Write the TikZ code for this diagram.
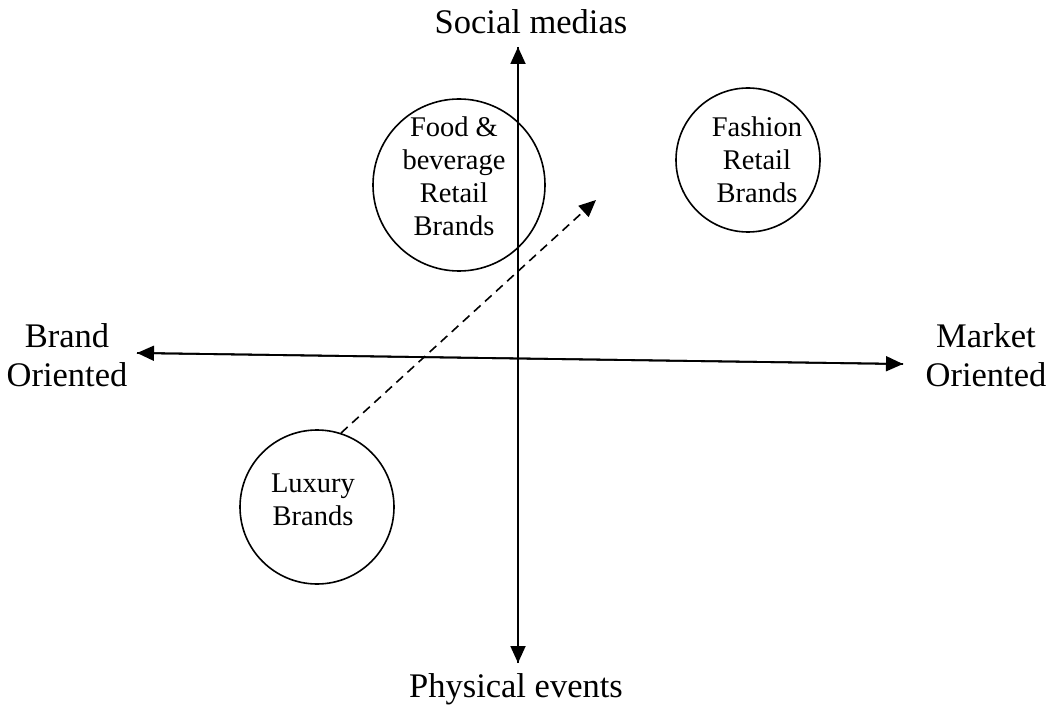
\documentclass[tikz,border=0pt]{standalone}
\usepackage{fontspec}
\setmainfont{Liberation Serif}
\usetikzlibrary{arrows.meta}
\begin{document}
\begin{tikzpicture}[x=1pt,y=-1pt,
  axis/.style={line width=1.8pt,-{Triangle[length=17pt,width=15pt]}},
  axislabel/.style={font=\fontsize{34.5}{39}\selectfont,align=center,inner sep=0pt},
  bubble/.style={circle,draw,line width=1.6pt,inner sep=0pt},
  bubbletext/.style={font=\fontsize{28.5}{33}\selectfont,align=center,inner sep=0pt},
  trendarrow/.style={dash pattern=on 9pt off 6pt,line width=1.6pt,-{Triangle[length=17pt,width=15pt]}}]
  \useasboundingbox (0,0) rectangle (1055,711);

  % axis ends
  \coordinate (top) at (518,47);
  \coordinate (bottom) at (518,663);
  \coordinate (left) at (137,353);
  \coordinate (right) at (903,364);
  \coordinate (trendend) at (596,200);

  % axis labels
  \node[axislabel] (social) at (531,22) {Social medias};
  \node[axislabel] (physical) at (516,689) {Physical events};
  \node[axislabel] (brand) at (67,355) {Brand\\Oriented};
  \node[axislabel] (market) at (986,355) {Market\\Oriented};

  % circles
  \node[bubble,minimum size=172pt] (food) at (459,185) {};
  \node[bubble,minimum size=144pt] (fashion) at (748,160) {};
  \node[bubble,minimum size=154pt] (lux) at (317,507) {};

  \node[bubbletext] (foodtext) at (454,176) {Food \&\\beverage\\Retail\\Brands};
  \node[bubbletext] (fashiontext) at (757,160) {Fashion\\Retail\\Brands};
  \node[bubbletext] (luxtext) at (313,500) {Luxury\\Brands};

  % axes
  \draw[axis] (bottom) -- (top);
  \draw[axis] (top) -- (bottom);
  \draw[axis] (right) -- (left);
  \draw[axis] (left) -- (right);

  % dashed trend arrow
  \draw[trendarrow] (lux.72) -- (trendend);
\end{tikzpicture}
\end{document}
